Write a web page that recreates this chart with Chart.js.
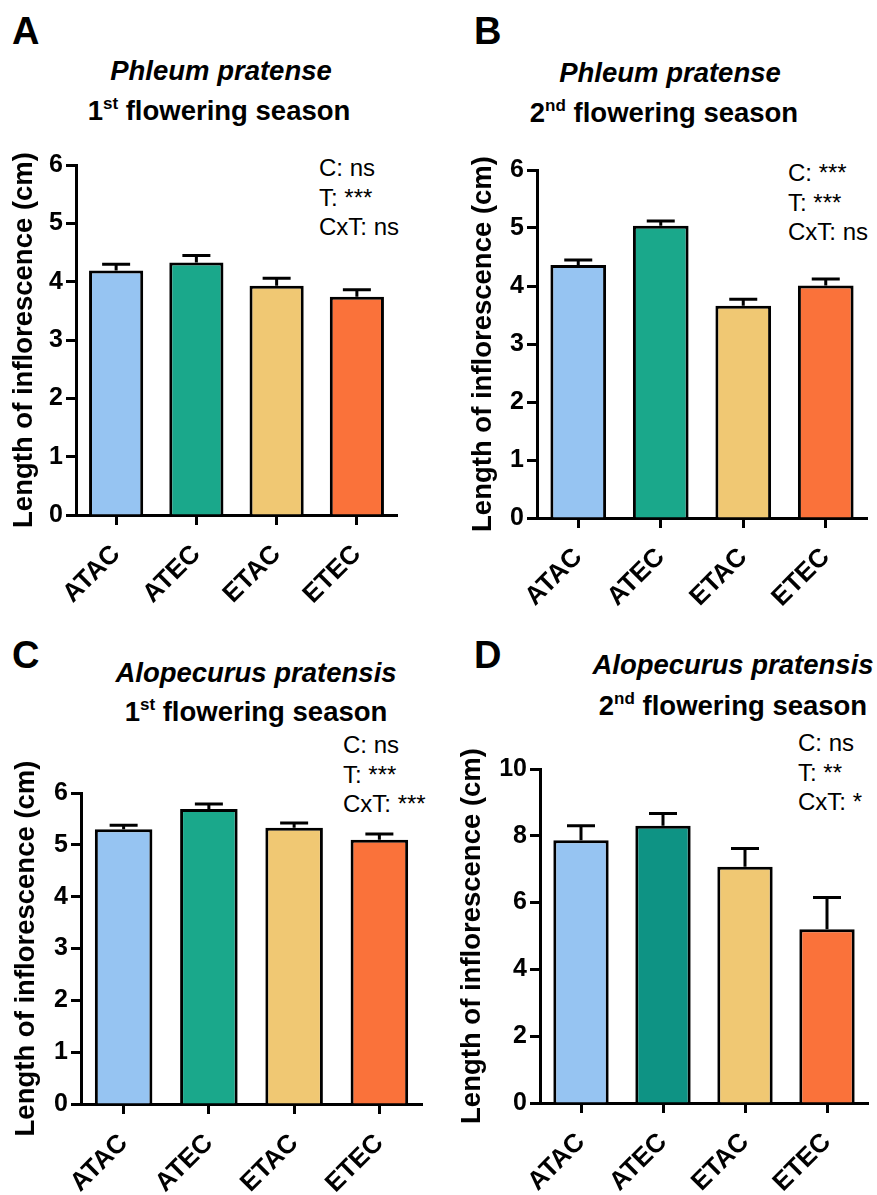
<!DOCTYPE html>
<html lang="en">
<head>
  <meta charset="UTF-8" />
  <title>Length of inflorescence</title>
  <script src="https://cdn.jsdelivr.net/npm/chart.js"></script>
  <style>
    body {
      margin: 0;
      background: #fff;
      font-family: "Liberation Sans", Arial, sans-serif;
    }
    .page {
      position: relative;
      width: 877px;
      height: 1195px;
      overflow: hidden;
    }
    .panel {
      position: absolute;
    }
    .letter {
      position: absolute;
      font-weight: bold;
      font-size: 38px;
      line-height: 40px;
    }
    .title {
      position: absolute;
      width: 400px;
      text-align: center;
      font-weight: bold;
      font-size: 27.5px;
      line-height: 40px;
      white-space: nowrap;
    }
    .title i { font-style: italic; }
    .title sup { font-size: 17px; vertical-align: 11px; line-height: 0; }
    .stats {
      position: absolute;
      font-size: 24px;
      line-height: 29.5px;
      white-space: nowrap;
    }
  </style>
</head>
<body>
<div class="page">
  <div class="letter" style="left:12px; top:11px;">A</div>
  <div class="letter" style="left:474px; top:11px;">B</div>
  <div class="letter" style="left:12px; top:635px;">C</div>
  <div class="letter" style="left:474px; top:635px;">D</div>

  <div class="title" style="left:21px; top:51px;"><i>Phleum pratense</i></div>
  <div class="title" style="left:19px; top:91px;">1<sup>st</sup> flowering season</div>
  <div class="title" style="left:470px; top:53px;"><i>Phleum pratense</i></div>
  <div class="title" style="left:464px; top:93px;">2<sup>nd</sup> flowering season</div>
  <div class="title" style="left:56px; top:653px;"><i>Alopecurus pratensis</i></div>
  <div class="title" style="left:56px; top:692px;">1<sup>st</sup> flowering season</div>
  <div class="title" style="left:533px; top:645px;"><i>Alopecurus pratensis</i></div>
  <div class="title" style="left:533px; top:686px;">2<sup>nd</sup> flowering season</div>

  <div class="stats" style="left:319px; top:153px;">C: ns<br>T: ***<br>CxT: ns</div>
  <div class="stats" style="left:788px; top:158px;">C: ***<br>T: ***<br>CxT: ns</div>
  <div class="stats" style="left:343px; top:730px;">C: ns<br>T: ***<br>CxT: ***</div>
  <div class="stats" style="left:798px; top:728px;">C: ns<br>T: **<br>CxT: *</div>

  <div class="panel" style="left:0px; top:140px; width:440px; height:480px;"><canvas id="chartA"></canvas></div>
  <div class="panel" style="left:440px; top:140px; width:437px; height:480px;"><canvas id="chartB"></canvas></div>
  <div class="panel" style="left:0px; top:730px; width:440px; height:465px;"><canvas id="chartC"></canvas></div>
  <div class="panel" style="left:440px; top:730px; width:437px; height:465px;"><canvas id="chartD"></canvas></div>
</div>

<script>
  const treatments = ['ATAC', 'ATEC', 'ETAC', 'ETEC'];

  // means and standard errors (cm)
  const phleum1Means = [4.19, 4.33, 3.93, 3.74];
  const phleum1Err = [0.11, 0.12, 0.13, 0.12];
  const phleum2Means = [4.36, 5.04, 3.66, 4.01];
  const phleum2Err = [0.09, 0.08, 0.11, 0.11];
  const alopec1Means = [5.30, 5.69, 5.33, 5.10];
  const alopec1Err = [0.08, 0.10, 0.09, 0.11];
  const alopec2Means = [7.87, 8.30, 7.07, 5.20];
  const alopec2Err = [0.43, 0.37, 0.55, 0.95];

  const yTicks1 = [0, 1, 2, 3, 4, 5, 6];
  const yTicks2 = [0, 2, 4, 6, 8, 10];

  const barColors = ['#96c4f2', '#1aa88b', '#f0c873', '#fa723a'];
  const barColorsD = ['#96c4f2', '#0e9384', '#f0c873', '#fa723a'];

  const FONT = '"Liberation Sans", Arial, sans-serif';

  // draws the upper SEM whisker of every bar
  const errorBars = {
    id: 'errorBars',
    afterDatasetsDraw(chart) {
      const ctx = chart.ctx;
      const y = chart.scales.y;
      const ds = chart.data.datasets[0];
      const meta = chart.getDatasetMeta(0);
      ctx.save();
      ctx.strokeStyle = '#000';
      ctx.lineWidth = 3;
      meta.data.forEach((bar, i) => {
        const top = y.getPixelForValue(ds.data[i] + ds.errors[i]);
        ctx.beginPath();
        ctx.moveTo(bar.x, bar.y);
        ctx.lineTo(bar.x, top);
        ctx.moveTo(bar.x - 14, top);
        ctx.lineTo(bar.x + 14, top);
        ctx.stroke();
      });
      ctx.restore();
    }
  };

  function makePanel(id, means, errs, colors, ticks, box) {
    const max = ticks[ticks.length - 1];
    new Chart(document.getElementById(id), {
      type: 'bar',
      data: {
        labels: treatments,
        datasets: [{
          data: means,
          errors: errs,
          backgroundColor: colors,
          borderColor: '#000',
          borderWidth: 3,
          borderSkipped: 'start',
          categoryPercentage: 0.675,
          barPercentage: 1.0
        }]
      },
      options: {
        responsive: true,
        maintainAspectRatio: false,
        animation: false,
        events: [],
        layout: { padding: { top: box.top, right: box.right, left: 0, bottom: 0 } },
        plugins: { legend: { display: false }, tooltip: { enabled: false } },
        scales: {
          x: {
            offset: true,
            afterFit: s => { s.height = box.xh; },
            grid: {
              offset: false,
              drawOnChartArea: false,
              tickLength: 10,
              tickWidth: 3,
              tickColor: '#000'
            },
            border: { color: '#000', width: 3 },
            ticks: {
              autoSkip: false,
              minRotation: 45,
              maxRotation: 45,
              padding: 14,
              color: '#000',
              font: { family: FONT, size: 26, weight: 'bold' }
            }
          },
          y: {
            min: 0,
            max: max,
            afterFit: s => { s.width = box.yw; },
            afterBuildTicks: s => { s.ticks = ticks.map(v => ({ value: v })); },
            grid: {
              drawOnChartArea: false,
              tickLength: 10,
              tickWidth: 3,
              tickColor: '#000'
            },
            border: { color: '#000', width: 3 },
            ticks: {
              padding: 3,
              color: '#000',
              font: { family: FONT, size: 25, weight: 'bold' }
            },
            title: {
              display: true,
              text: 'Length of inflorescence (cm)',
              color: '#000',
              padding: { top: box.tp, bottom: 0 },
              font: { family: FONT, size: 27.5, weight: 'bold' }
            }
          }
        }
      },
      plugins: [errorBars]
    });
  }

  // box: padding top, right padding, y-scale width, x-scale height, title offset
  makePanel('chartA', phleum1Means, phleum1Err, barColors, yTicks1,
    { top: 25, right: 43, yw: 76, xh: 105, tp: 8 });
  makePanel('chartB', phleum2Means, phleum2Err, barColors, yTicks1,
    { top: 30, right: 10, yw: 97, xh: 102, tp: 27 });
  makePanel('chartC', alopec1Means, alopec1Err, barColors, yTicks1,
    { top: 63, right: 18, yw: 81, xh: 91, tp: 10 });
  makePanel('chartD', alopec2Means, alopec2Err, barColorsD, yTicks2,
    { top: 39, right: 9, yw: 100, xh: 92, tp: 16 });
</script>
</body>
</html>
